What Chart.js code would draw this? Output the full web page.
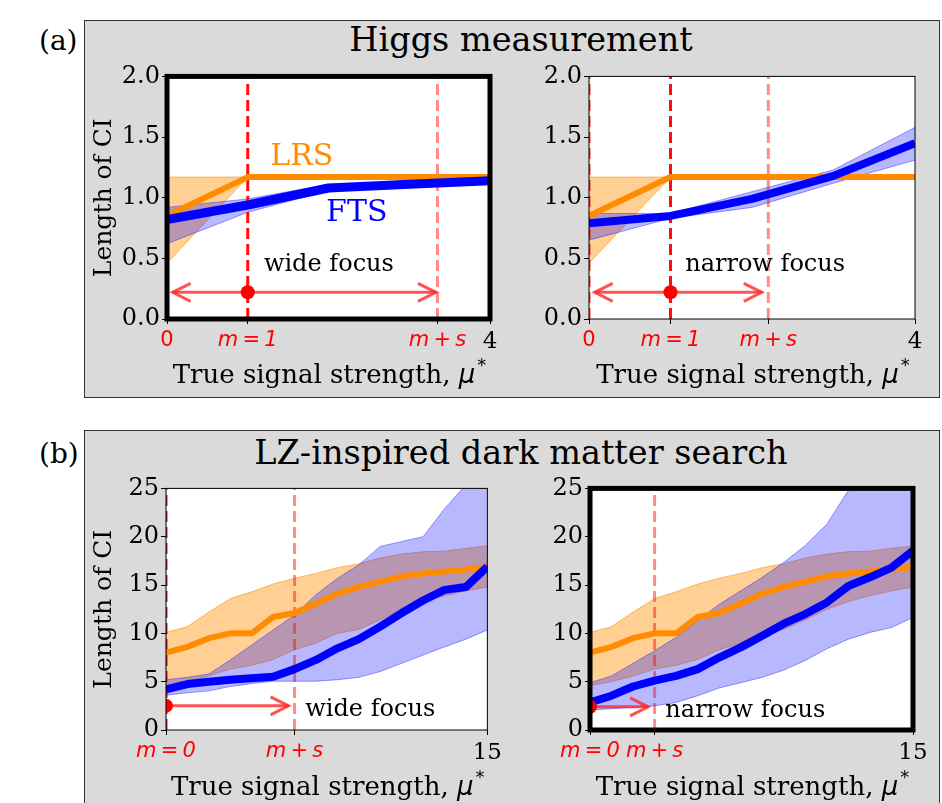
<!DOCTYPE html>
<html>
<head>
<meta charset="utf-8">
<script src="https://cdn.jsdelivr.net/npm/chart.js@4"></script>
<style>
  body { margin: 0; background: #fff; width: 942px; height: 803px; overflow: hidden; position: relative;
         font-family: "DejaVu Serif", serif; }
  .panel { position: absolute; background: #dadada; border: 1.5px solid #333; box-sizing: border-box; }
  .lbl { position: absolute; font-size: 28px; line-height: 28px; }
  .ttl { position: absolute; font-size: 33.5px; line-height: 34px; text-align: center; white-space: nowrap; }
  canvas { position: absolute; }
</style>
</head>
<body>
<div class="panel" style="left:84px;top:20px;width:856px;height:378px"></div>
<div class="panel" style="left:84px;top:430px;width:856px;height:390px"></div>
<div class="lbl" style="left:39px;top:27px">(a)</div>
<div class="lbl" style="left:39px;top:440px">(b)</div>
<div class="ttl" style="left:321px;top:23px;width:400px">Higgs measurement</div>
<div class="ttl" style="left:221px;top:436px;width:600px">LZ-inspired dark matter search</div>

<canvas id="c1" width="422" height="338" style="left:84px;top:60px"></canvas>
<canvas id="c2" width="430" height="338" style="left:506px;top:60px"></canvas>
<canvas id="c3" width="422" height="331" style="left:84px;top:472px"></canvas>
<canvas id="c4" width="430" height="331" style="left:506px;top:472px"></canvas>

<script>
// === DATA ===
// (a) Higgs measurement, true signal strength 0..4
const higgsMu = [0, 1, 2, 3, 4];
const higgsLrs = [0.85, 1.17, 1.17, 1.17, 1.17];
const higgsLrsHi = [1.17, 1.17, 1.18, 1.18, 1.18];
const higgsLrsLo = [0.46, 1.17, 1.16, 1.16, 1.16];
const higgsFtsWide = [0.82, 0.94, 1.08, 1.11, 1.14];
const higgsFtsWideHi = [0.92, 0.99, 1.11, 1.13, 1.16];
const higgsFtsWideLo = [0.62, 0.88, 1.06, 1.09, 1.12];
const higgsFtsNarrow = [0.79, 0.85, 0.99, 1.18, 1.45];
const higgsFtsNarrowHi = [0.87, 0.87, 1.05, 1.23, 1.58];
const higgsFtsNarrowLo = [0.65, 0.83, 0.92, 1.12, 1.31];
const higgsM = 1;
const higgsWideMs = 3.35;
const higgsNarrowMs = 2.2;

// (b) LZ-inspired dark matter search, true signal strength 0..15
const lzMu = [0, 1, 2, 3, 4, 5, 6, 7, 8, 9, 10, 11, 12, 13, 14, 15];
const lzLrs = [8.0, 8.6, 9.5, 10.0, 10.0, 11.7, 12.1, 13.1, 14.1, 14.8, 15.35, 15.9, 16.2, 16.4, 16.6, 16.9];
const lzLrsHi = [10.1, 10.7, 12.2, 13.6, 14.3, 15.1, 15.7, 16.2, 16.8, 17.2, 17.8, 18.2, 18.45, 18.5, 18.8, 19.05];
const lzLrsLo = [4.6, 5.0, 5.6, 6.3, 6.7, 7.3, 8.3, 9.0, 10.0, 10.4, 11.4, 12.5, 13.3, 13.9, 14.4, 14.8];
const lzFtsWide = [4.2, 4.75, 5.0, 5.2, 5.35, 5.5, 6.3, 7.25, 8.45, 9.4, 10.7, 12.1, 13.4, 14.5, 14.8, 16.9];
const lzFtsWideHi = [5.2, 5.45, 5.8, 7.25, 8.8, 10.35, 11.9, 14.0, 15.7, 17.1, 19.0, 19.5, 20.0, 22.9, 25.4, 28.0];
const lzFtsWideLo = [3.6, 3.85, 4.05, 4.5, 4.8, 5.05, 5.05, 5.05, 5.2, 5.45, 6.05, 6.9, 7.75, 8.6, 9.4, 10.35];
const lzFtsNarrow = [2.85, 3.55, 4.5, 5.1, 5.6, 6.3, 7.5, 8.55, 9.75, 11.0, 12.0, 13.2, 14.9, 15.8, 16.8, 18.55];
const lzFtsNarrowHi = [4.9, 5.6, 6.9, 8.2, 9.6, 11.3, 13.0, 14.4, 15.8, 17.35, 19.1, 21.3, 24.8, 28, 31, 34];
const lzFtsNarrowLo = [2.07, 2.2, 2.35, 2.5, 2.85, 3.55, 4.35, 4.9, 5.45, 6.2, 7.2, 8.4, 9.4, 10.1, 10.6, 11.65];
const lzM = 0;
const lzWideMs = 6;
const lzNarrowMs = 3;

// === STYLE ===
const SERIF = '"DejaVu Serif", serif';
const SANS = '"DejaVu Sans", sans-serif';
const ORANGE = "#ff8c00";
const BLUE = "#0000ff";
const ORANGE_FILL = "rgba(255,140,0,0.42)";
const ORANGE_EDGE = "rgba(255,140,0,0.55)";
const BLUE_FILL = "rgba(0,0,255,0.28)";
const BLUE_EDGE = "rgba(40,40,255,0.45)";
const ARROW = "rgba(255,40,40,0.8)";

function pts(xs, ys) {
  return xs.map((x, i) => ({ x, y: ys[i] }));
}

function bandSets(xs, hi, lo, fillC, edgeC, order) {
  return [
    { data: pts(xs, hi), fill: "+1", backgroundColor: fillC, borderColor: edgeC, borderWidth: 1, pointRadius: 0, order },
    { data: pts(xs, lo), fill: false, borderColor: edgeC, borderWidth: 1, pointRadius: 0, order },
  ];
}

function lineSet(xs, ys, color, w, order) {
  return { data: pts(xs, ys), fill: false, borderColor: color, borderWidth: w, pointRadius: 0,
           borderJoinStyle: "round", order };
}

function vline(xv, yMax, color) {
  return { data: [{ x: xv, y: 0 }, { x: xv, y: yMax }], fill: false, borderColor: color, borderWidth: 3,
           borderDash: [11, 5], pointRadius: 0, order: 8 };
}

function shaft(x0, x1, yv) {
  return { data: [{ x: x0, y: yv }, { x: x1, y: yv }], fill: false, borderColor: ARROW, borderWidth: 3,
           pointRadius: 0, order: 5 };
}

function dot(xv, yv) {
  return { data: [{ x: xv, y: yv }], showLine: false, pointRadius: 7, pointBackgroundColor: "red",
           pointBorderWidth: 0, order: 1 };
}

// white plot area, arrow heads, text notes, frame and axis titles
const decor = {
  id: "decor",
  beforeDraw(chart) {
    const { ctx, chartArea: a } = chart;
    ctx.save();
    ctx.fillStyle = "#fff";
    ctx.fillRect(a.left, a.top, a.width, a.height);
    ctx.restore();
  },
  afterDraw(chart, args, o) {
    const { ctx, chartArea: a, scales: { x, y } } = chart;
    ctx.save();
    ctx.beginPath();
    ctx.rect(a.left, a.top, a.width, a.height);
    ctx.clip();
    ctx.strokeStyle = ARROW;
    ctx.lineWidth = 3;
    o.heads.forEach((h) => {
      const px = x.getPixelForValue(h.x);
      const py = y.getPixelForValue(h.y);
      ctx.beginPath();
      ctx.moveTo(px - h.dir * 18, py - 9);
      ctx.lineTo(px, py);
      ctx.lineTo(px - h.dir * 18, py + 9);
      ctx.stroke();
    });
    ctx.restore();

    ctx.save();
    ctx.textBaseline = "middle";
    o.notes.forEach((n) => {
      ctx.font = `${n.size}px ${SERIF}`;
      ctx.fillStyle = n.color;
      ctx.fillText(n.text, x.getPixelForValue(n.x), y.getPixelForValue(n.y));
    });
    ctx.restore();

    // frame
    ctx.save();
    ctx.lineWidth = o.frame;
    ctx.strokeStyle = "#000";
    ctx.strokeRect(a.left, a.top, a.width, a.height);
    ctx.restore();

    // x title: True signal strength, mu*
    ctx.save();
    ctx.fillStyle = "#000";
    ctx.textBaseline = "alphabetic";
    const base = a.bottom + o.xTitleDy;
    const p1 = "True signal strength, ";
    ctx.font = `26px ${SERIF}`;
    const w1 = ctx.measureText(p1).width;
    ctx.font = `italic 26px ${SANS}`;
    const w2 = ctx.measureText("μ").width;
    ctx.font = `18px ${SANS}`;
    const w3 = ctx.measureText("*").width;
    let cx = (a.left + a.right) / 2 - (w1 + w2 + w3) / 2;
    ctx.font = `26px ${SERIF}`;
    ctx.fillText(p1, cx, base);
    cx += w1;
    ctx.font = `italic 26px ${SANS}`;
    ctx.fillText("μ", cx, base);
    cx += w2 + 2;
    ctx.font = `18px ${SANS}`;
    ctx.fillText("*", cx, base - 12);
    ctx.restore();

    if (o.yTitle) {
      ctx.save();
      ctx.translate(20, (a.top + a.bottom) / 2);
      ctx.rotate(-Math.PI / 2);
      ctx.font = `25px ${SERIF}`;
      ctx.fillStyle = "#000";
      ctx.textAlign = "center";
      ctx.textBaseline = "middle";
      ctx.fillText("Length of CI", 0, 0);
      ctx.restore();
    }
  },
};

function makeChart(id, o) {
  const lab = (i) => o.xLabels[i] || "";
  return new Chart(document.getElementById(id), {
    type: "line",
    data: { datasets: o.datasets },
    options: {
      responsive: false,
      animation: false,
      devicePixelRatio: 1,
      layout: { padding: { left: 0, right: o.padR, top: o.padT, bottom: 0 } },
      plugins: { legend: { display: false }, tooltip: { enabled: false }, decor: o.decor },
      scales: {
        x: {
          type: "linear",
          min: 0,
          max: o.xMax,
          afterFit: (s) => { s.height = o.xH; },
          afterBuildTicks: (s) => { s.ticks = o.xTicks.map((v) => ({ value: v })); },
          grid: { drawOnChartArea: false, tickLength: 5, color: "#000" },
          border: { display: false },
          ticks: {
            autoSkip: false,
            maxRotation: 0,
            padding: 4,
            callback: (v, i) => lab(i),
            color: (c) => o.xColors[c.index] || "#000",
            font: (c) => (o.xColors[c.index] === "red"
              ? { family: SANS, size: 21, style: lab(c.index).includes("m") ? "italic" : "normal" }
              : { family: SERIF, size: 23 }),
          },
        },
        y: {
          min: 0,
          max: o.yMax,
          afterFit: (s) => { s.width = o.yW; },
          grid: { drawOnChartArea: false, tickLength: 5, color: "#000" },
          border: { display: false },
          ticks: {
            stepSize: o.yStep,
            padding: 2,
            color: "#000",
            font: { family: SERIF, size: 24 },
            callback: (v) => (o.yStep < 1 ? v.toFixed(1) : String(v)),
          },
        },
      },
    },
    plugins: [decor],
  });
}

const M1 = "m\u2009=\u20091";
const M0 = "m\u2009=\u20090";
const MS = "m\u2009+\u2009s";

// === (a) wide focus ===
makeChart("c1", {
  padR: 16, padT: 16, yW: 83, xH: 79, xMax: 4, yMax: 2, yStep: 0.5,
  xTicks: [0, higgsM, higgsWideMs, 4],
  xLabels: ["0", M1, MS, "4"],
  xColors: ["red", "red", "red", "#000"],
  datasets: [
    ...bandSets(higgsMu, higgsLrsHi, higgsLrsLo, ORANGE_FILL, ORANGE_EDGE, 10),
    ...bandSets(higgsMu, higgsFtsWideHi, higgsFtsWideLo, BLUE_FILL, BLUE_EDGE, 9),
    vline(higgsM, 2, "rgba(255,0,0,0.95)"),
    vline(higgsWideMs, 2, "rgba(255,0,0,0.45)"),
    shaft(0.07, 3.33, 0.22),
    lineSet(higgsMu, higgsLrs, ORANGE, 6, 4),
    lineSet(higgsMu, higgsFtsWide, BLUE, 9, 3),
    dot(higgsM, 0.22),
  ],
  decor: {
    frame: 5, yTitle: true, xTitleDy: 64,
    heads: [{ x: 0.07, y: 0.22, dir: -1 }, { x: 3.33, y: 0.22, dir: 1 }],
    notes: [
      { text: "LRS", x: 1.28, y: 1.33, color: ORANGE, size: 30 },
      { text: "FTS", x: 1.97, y: 0.87, color: BLUE, size: 30 },
      { text: "wide focus", x: 1.2, y: 0.45, color: "#000", size: 24 },
    ],
  },
});

// === (a) narrow focus ===
makeChart("c2", {
  padR: 21, padT: 16, yW: 83, xH: 79, xMax: 4, yMax: 2, yStep: 0.5,
  xTicks: [0, higgsM, higgsNarrowMs, 4],
  xLabels: ["0", M1, MS, "4"],
  xColors: ["red", "red", "red", "#000"],
  datasets: [
    ...bandSets(higgsMu, higgsLrsHi, higgsLrsLo, ORANGE_FILL, ORANGE_EDGE, 10),
    ...bandSets(higgsMu, higgsFtsNarrowHi, higgsFtsNarrowLo, BLUE_FILL, BLUE_EDGE, 9),
    vline(0, 2, "rgba(255,0,0,0.8)"),
    vline(higgsM, 2, "rgba(255,0,0,0.95)"),
    vline(higgsNarrowMs, 2, "rgba(255,0,0,0.45)"),
    shaft(0.07, 2.12, 0.22),
    lineSet(higgsMu, higgsLrs, ORANGE, 6, 4),
    lineSet(higgsMu, higgsFtsNarrow, BLUE, 8, 3),
    dot(higgsM, 0.22),
  ],
  decor: {
    frame: 1, yTitle: false, xTitleDy: 64,
    heads: [{ x: 0.07, y: 0.22, dir: -1 }, { x: 2.12, y: 0.22, dir: 1 }],
    notes: [{ text: "narrow focus", x: 1.18, y: 0.45, color: "#000", size: 24 }],
  },
});

// === (b) wide focus ===
makeChart("c3", {
  padR: 15, padT: 16, yW: 82, xH: 73, xMax: 15, yMax: 25, yStep: 5,
  xTicks: [lzM, lzWideMs, 15],
  xLabels: [M0, MS, "15"],
  xColors: ["red", "red", "#000"],
  datasets: [
    ...bandSets(lzMu, lzLrsHi, lzLrsLo, ORANGE_FILL, ORANGE_EDGE, 10),
    ...bandSets(lzMu, lzFtsWideHi, lzFtsWideLo, BLUE_FILL, BLUE_EDGE, 9),
    vline(lzM, 25, "rgba(200,0,0,0.9)"),
    vline(lzWideMs, 25, "rgba(255,0,0,0.45)"),
    shaft(0, 5.72, 2.5),
    lineSet(lzMu, lzLrs, ORANGE, 6, 4),
    lineSet(lzMu, lzFtsWide, BLUE, 8, 3),
    dot(lzM, 2.5),
  ],
  decor: {
    frame: 1, yTitle: true, xTitleDy: 65,
    heads: [{ x: 5.72, y: 2.5, dir: 1 }],
    notes: [{ text: "wide focus", x: 6.5, y: 2.07, color: "#000", size: 24 }],
  },
});

// === (b) narrow focus ===
makeChart("c4", {
  padR: 23, padT: 16, yW: 84, xH: 73, xMax: 15, yMax: 25, yStep: 5,
  xTicks: [lzM, lzNarrowMs, 15],
  xLabels: [M0, MS, "15"],
  xColors: ["red", "red", "#000"],
  datasets: [
    ...bandSets(lzMu, lzLrsHi, lzLrsLo, ORANGE_FILL, ORANGE_EDGE, 10),
    ...bandSets(lzMu, lzFtsNarrowHi, lzFtsNarrowLo, BLUE_FILL, BLUE_EDGE, 9),
    vline(lzNarrowMs, 25, "rgba(255,0,0,0.45)"),
    shaft(0, 2.7, 2.4),
    lineSet(lzMu, lzLrs, ORANGE, 6, 4),
    lineSet(lzMu, lzFtsNarrow, BLUE, 8, 3),
    dot(lzM, 2.4),
  ],
  decor: {
    frame: 5, yTitle: false, xTitleDy: 65,
    heads: [{ x: 2.7, y: 2.4, dir: 1 }],
    notes: [{ text: "narrow focus", x: 3.5, y: 1.95, color: "#000", size: 24 }],
  },
});
</script>
</body>
</html>
